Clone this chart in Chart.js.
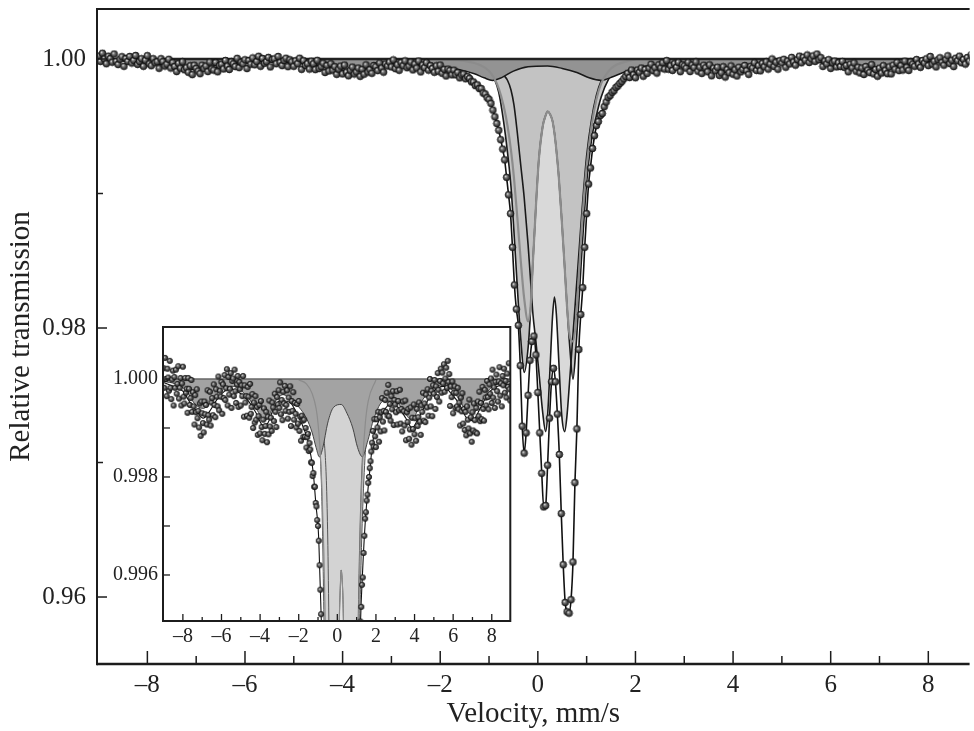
<!DOCTYPE html>
<html><head><meta charset="utf-8">
<script src="https://cdn.jsdelivr.net/npm/chart.js@4"></script>
<style>
html,body{margin:0;padding:0;background:#fff;}
#wrap{position:relative;width:974px;height:731px;overflow:hidden;}
#main{position:absolute;left:0;top:0;}
#inset{position:absolute;left:100px;top:320px;}
</style></head><body>
<div id="wrap"><canvas id="main" width="974" height="731"></canvas><canvas id="inset" width="414" height="340"></canvas></div>
<script>
// ---------- measured spectrum (channels from -9.00 mm/s, 0.04 mm/s apart) ----------
const V_START = -9.0, V_STEP = 0.04;
// transmission offsets from 1, in units of 1e-5
const transLeftOffset = [
 22,-18,43,0,-35,21,3,-24,37,-18,
 -41,-1,17,-54,4,-18,19,-30,-10,26,
 -40,-18,2,-54,-9,25,-36,-50,2,-28,
 -20,-69,2,-20,-53,-39,-2,-67,-27,-56,
 -93,-33,-68,-21,-80,-65,-99,-50,-116,-46,
 -70,-90,-109,-46,-72,-53,-93,-23,-74,-83,
 -26,-95,-48,-39,-74,-11,-53,-78,-21,-36,
 -56,5,-64,-24,-36,-6,-71,-11,-39,8,
 -43,-19,20,-54,4,-32,-20,12,-59,-4,
 1,-35,19,-25,-49,-11,6,-57,-6,-21,
 -54,-13,-35,6,-77,-13,-48,-35,-75,-16,
 -36,-79,-10,-71,-57,-31,-100,-48,-89,-35,
 -83,-57,-114,-76,-53,-111,-45,-98,-125,-83,
 -60,-112,-96,-67,-129,-77,-113,-44,-97,-79,
 -106,-48,-58,-86,-30,-67,-98,-37,-52,-23,
 -59,-7,-72,-43,-84,-26,-50,-14,-65,-53,
 -23,-81,-38,-67,-15,-96,-45,-65,-27,-83,
 -49,-71,-99,-51,-91,-45,-106,-77,-126,-75,
 -85,-118,-83,-118,-100,-140,-119,-112,-147,-131,
 -144,-170,-171,-198,-192,-220,-220,-253,-260,-288
];
const transCenterOffset = [
 -300,-330,-380,-430,-480,-530,-600,-670,-750,-880,
 -1010,-1150,-1400,-1680,-1860,-1980,-2280,-2730,-2930,-2780,
 -2500,-2240,-2100,-2060,-2200,-2480,-2780,-3080,-3330,-3320,
 -3020,-2670,-2400,-2300,-2400,-2640,-2940,-3380,-3760,-4040,
 -4110,-4120,-4020,-3740,-3150,-2750,-2160,-1900,-1700,-1400,-1150
];
const transRightOffset = [
 -930,-810,-665,-570,-495,-465,-420,-405,-355,-320,
 -285,-272,-248,-236,-212,-200,-182,-168,-148,-130,
 -106,-138,-82,-117,-139,-82,-99,-67,-128,-78,
 -107,-68,-39,-87,-65,-105,-43,-67,-28,-75,
 -12,-76,-51,-85,-35,-62,-25,-94,-43,-52,
 -68,-25,-93,-45,-64,-22,-91,-61,-107,-46,
 -66,-95,-44,-125,-68,-88,-61,-122,-103,-58,
 -134,-79,-102,-52,-113,-80,-126,-61,-96,-78,
 -48,-87,-114,-54,-67,-28,-85,-50,-88,-32,
 -58,-21,-75,-38,0,-56,-24,-76,-13,-30,
 -2,-61,-15,-37,12,-22,-46,-4,21,-28,
 13,-9,30,-26,1,23,-18,37,-6,10,
 -55,-15,-37,-5,-70,-28,-15,-59,-28,-56,
 -18,-62,-48,-95,-38,-66,-29,-91,-61,-104,
 -67,-115,-56,-83,-101,-42,-111,-78,-128,-68,
 -105,-50,-84,-109,-59,-111,-46,-76,-26,-86,
 -49,-82,-16,-61,-85,-22,-38,-54,-4,-37,
 -62,-11,-30,1,-49,19,-38,-17,-59,-6,
 9,-25,-46,-5,24,-34,-9,-56,6,-13,
 21,-28,-4,-38,11,-16,32,-21,-44,7
];

// ---------- fitted envelope ----------
const fitVelocity = [-9.0,-8.5,-8.0,-7.6,-7.3,-6.95,-6.6,-6.2,-5.6,-5.0,-4.6,-4.2,-3.85,-3.6,-3.3,-3.0,-2.7,-2.4,-2.1,-1.8,-1.5,-1.25,-1.1,
 -1.00,-0.96,-0.92,-0.88,-0.84,-0.80,-0.76,-0.72,-0.68,-0.64,-0.60,-0.56,-0.52,-0.48,-0.44,-0.40,-0.36,-0.32,-0.28,-0.24,-0.20,-0.16,-0.12,-0.08,-0.04,
 0.00,0.04,0.08,0.12,0.16,0.20,0.24,0.28,0.32,0.36,0.40,0.44,0.48,0.52,0.56,0.60,0.64,0.68,0.72,0.76,0.80,0.84,0.88,0.92,0.96,1.00,
 1.04,1.08,1.12,1.2,1.3,1.45,1.65,1.85,2.1,2.4,2.8,3.2,3.55,3.87,4.2,4.6,5.0,5.5,5.9,6.3,6.7,7.0,7.4,7.8,8.3,9.0];
const fitTransmission = [.99993,.99985,.99975,.99950,.99935,.99920,.99935,.99960,.99980,.99970,.99955,.99930,.99905,.99910,.99940,.99955,.99955,.99950,.99930,.99905,.99870,.99810,.99740,
 .99700,.99670,.99620,.99570,.99520,.99470,.99400,.99330,.99250,.99120,.98990,.98850,.98600,.98320,.98140,.98020,.97720,.97270,.97070,.97220,.97500,.97760,.97900,.97940,.97800,
 .97520,.97220,.96920,.96670,.96680,.96980,.97330,.97600,.97700,.97600,.97360,.97060,.96620,.96240,.95960,.95890,.95880,.95980,.96260,.96850,.97250,.97840,.98100,.98300,.98600,.98850,
 .99070,.99200,.99325,.99500,.99600,.99710,.99800,.99875,.99910,.99935,.99950,.99940,.99920,.99900,.99920,.99950,.99975,.99985,.99970,.99950,.99920,.99915,.99940,.99970,.99985,.99990];

// ---------- subspectra ----------
const compVelocity = [-2.0,-1.6,-1.3,-1.1,-1.0,-0.9,-0.8,-0.7,-0.62,-0.55,-0.49,-0.42,-0.35,-0.28,-0.2,-0.15,-0.1,-0.04,0.02,0.1,0.16,0.2,0.25,0.3,0.34,0.38,0.43,0.49,0.55,0.6,0.65,0.72,0.78,0.85,0.9,1.0,1.1,1.2,1.3,1.45,1.6,2.0];
// outer doublet (black)
const doubletOuter = [.99995,.99990,.99980,.99950,.99920,.99860,.99750,.99530,.99300,.99050,.98720,.98300,.97920,.97670,.97850,.98120,.98500,.98900,.99250,.99500,.99580,.99610,.99590,.99540,.99450,.99320,.99120,.98800,.98450,.98150,.97880,.97620,.97850,.98250,.98550,.99080,.99400,.99580,.99720,.99850,.99920,.99995];
// inner doublet (black)
const doubletInner = [.99998,.99995,.99990,.99980,.99960,.99940,.99910,.99880,.99840,.99770,.99660,.99450,.99210,.98970,.98620,.98360,.98100,.97900,.97680,.97370,.97230,.97350,.97700,.98080,.98230,.98100,.97750,.97350,.97230,.97360,.97600,.97950,.98250,.98600,.98850,.99280,.99550,.99730,.99840,.99920,.99960,.99998];
// third doublet (grey line)
const doubletGrey = [.99998,.99990,.99970,.99940,.99910,.99860,.99780,.99650,.99500,.99320,.99120,.98820,.98500,.98220,.98050,.98150,.98500,.98900,.99250,.99500,.99580,.99610,.99590,.99540,.99450,.99320,.99120,.98800,.98450,.98150,.97950,.97900,.98050,.98450,.98750,.99200,.99500,.99700,.99820,.99910,.99955,.99998];
// magnetic sextet + broad part (dark fill)
const sextetVelocity = [-9.0,-8.4,-7.8,-7.4,-6.95,-6.5,-6.0,-5.4,-4.8,-4.3,-3.71,-3.2,-2.8,-2.4,-2.0,-1.6,-1.3,-1.1,-0.93,-0.75,-0.5,-0.2,0.2,0.5,0.8,1.05,1.3,1.55,1.9,2.4,3.0,3.5,3.87,4.3,4.9,5.5,6.1,6.6,6.97,7.4,7.9,8.5,9.0];
const sextet = [.99995,.99990,.99975,.99950,.99940,.99955,.99980,.99985,.99970,.99945,.99916,.99955,.99968,.99958,.99943,.99920,.99890,.99860,.99841,.99860,.99910,.99942,.99948,.99930,.99900,.99860,.99841,.99870,.99920,.99955,.99955,.99930,.99916,.99950,.99980,.99988,.99970,.99940,.99928,.99950,.99980,.99992,.99995];

// ---------- axes ----------
const mainXTicks = [-8,-6,-4,-2,0,2,4,6,8], mainXMinor = [-7,-5,-3,-1,1,3,5,7];
const mainYTicks = [0.96,0.98,1.00], mainYMinor = [0.97,0.99];
const insetXTicks = [-8,-6,-4,-2,0,2,4,6,8], insetXMinor = [-9,-7,-5,-3,-1,1,3,5,7,9];
const insetYTicks = [0.996,0.998,1.000], insetYMinor = [0.997,0.999];

// ---------- build ----------
const allOffsets = transLeftOffset.concat(transCenterOffset, transRightOffset);
const spectrum = allOffsets.map((d,i)=>({x:+(V_START+i*V_STEP).toFixed(2), y:1+d*1e-5}));
const pts = (xs, ys) => xs.map((x,i)=>({x, y:ys[i]}));

function sphere(r){
  const s = Math.ceil(2*r+2), c = document.createElement('canvas'); c.width=c.height=s;
  const g = c.getContext('2d'), m = s/2;
  const gr = g.createRadialGradient(m-r*0.35, m-r*0.35, r*0.05, m, m, r);
  gr.addColorStop(0,'#ececec'); gr.addColorStop(0.35,'#7a7a7a'); gr.addColorStop(1,'#1a1a1a');
  g.fillStyle = gr; g.beginPath(); g.arc(m,m,r,0,Math.PI*2); g.fill();
  g.lineWidth = 0.7; g.strokeStyle = '#111'; g.stroke();
  return c;
}

const frame = {
  id:'frame',
  beforeDraw(chart, args, o){
    if(!o.whiteBg) return;
    const a = chart.chartArea, ctx = chart.ctx;
    ctx.save(); ctx.fillStyle='#fff'; ctx.fillRect(a.left,a.top,a.right-a.left,a.bottom-a.top); ctx.restore();
  },
  afterDraw(chart, args, o){
    const {ctx, chartArea:a, scales:{x,y}} = chart;
    ctx.save(); ctx.strokeStyle='#1c1c1c'; ctx.lineCap='butt';
    const ln=(x1,y1,x2,y2)=>{ctx.beginPath();ctx.moveTo(x1,y1);ctx.lineTo(x2,y2);ctx.stroke();};
    ctx.lineWidth = o.tickW;
    o.xMajor.forEach(v=>{const p=x.getPixelForValue(v); ln(p,a.bottom,p,a.bottom-o.xMajLen);});
    o.xMinor.forEach(v=>{const p=x.getPixelForValue(v); if(p>a.left+2&&p<a.right-2) ln(p,a.bottom,p,a.bottom-o.xMinLen);});
    o.yMajor.forEach(v=>{const p=y.getPixelForValue(v); ln(a.left,p,a.left+o.yMajLen,p);});
    o.yMinor.forEach(v=>{const p=y.getPixelForValue(v); ln(a.left,p,a.left+o.yMinLen,p);});
    ctx.lineWidth = o.leftW; ln(a.left,a.top-o.topW/2,a.left,a.bottom+o.bottomW/2);
    ctx.lineWidth = o.bottomW; ln(a.left,a.bottom,a.right,a.bottom);
    ctx.lineWidth = o.topW; ln(a.left,a.top,a.right,a.top);
    if(o.rightW){ ctx.lineWidth=o.rightW; ln(a.right,a.top-o.topW/2,a.right,a.bottom+o.bottomW/2); }
    ctx.restore();
  }
};

const fmtDash = v => v<0 ? '\u2013'+Math.abs(v) : String(v);

function makeChart(id, s){
  const datasets = [
    {data:pts(compVelocity,doubletInner), fill:{value:1}, backgroundColor:s.light, borderWidth:0, borderColor:'rgba(0,0,0,0)', order:20},
    {data:pts(compVelocity,doubletOuter), fill:{value:1}, backgroundColor:s.med, borderWidth:0, borderColor:'rgba(0,0,0,0)', order:19},
    {data:pts(compVelocity,doubletInner), fill:false, borderColor:s.dColor, borderWidth:s.dW, order:16},
    {data:pts(compVelocity,doubletOuter), fill:false, borderColor:s.dColor, borderWidth:s.dW, order:15},
    {data:pts(sextetVelocity,sextet), fill:{value:1}, backgroundColor:s.dark, borderColor:s.sColor, borderWidth:s.sW, order:14},
    {data:pts(compVelocity,doubletGrey), fill:false, borderColor:'#8c8c8c', borderWidth:s.cW, order:13},
    {data:[{x:-10,y:1},{x:10,y:1}], fill:false, borderColor:s.baseColor, borderWidth:s.baseW, order:12},
    {data:pts(fitVelocity,fitTransmission), fill:false, borderColor:'#111', borderWidth:s.fitW, order:11},
    {data:spectrum, showLine:false, pointStyle:sphere(s.pr), pointRadius:s.pr, order:10, clip:s.clip}
  ];
  return new Chart(document.getElementById(id), {
    type:'line',
    data:{datasets},
    plugins:[frame],
    options:{
      responsive:false, animation:false, events:[],
      layout:{padding:s.pad},
      elements:{line:{cubicInterpolationMode:'monotone', tension:0}, point:{radius:0, hoverRadius:0}},
      plugins:{legend:{display:false}, tooltip:{enabled:false}, frame:s.frame},
      scales:{
        x:{type:'linear', min:s.xmin, max:s.xmax,
           grid:{display:false, drawTicks:false}, border:{display:false},
           ticks:{autoSkip:false, maxRotation:0, includeBounds:false, padding:s.xPad, color:'#222',
                  font:{family:'Liberation Serif', size:s.tickSize, lineHeight:1}, callback:v=>fmtDash(v)},
           title:s.xTitle,
           afterBuildTicks:sc=>{sc.ticks=s.xTicks.map(v=>({value:v}));},
           afterFit:sc=>{sc.height=s.xH; sc.paddingLeft=0; sc.paddingRight=0;}},
        y:{type:'linear', min:s.ymin, max:s.ymax,
           grid:{display:false, drawTicks:false}, border:{display:false},
           ticks:{autoSkip:false, includeBounds:false, padding:s.yPad, color:'#222',
                  font:{family:'Liberation Serif', size:s.tickSize, lineHeight:1}, callback:v=>v.toFixed(s.yDec)},
           title:s.yTitle,
           afterBuildTicks:sc=>{sc.ticks=s.yTicks.map(v=>({value:v}));},
           afterFit:sc=>{sc.width=s.yW; sc.paddingTop=0; sc.paddingBottom=0;}}
      }
    }
  });
}

makeChart('main', {
  xmin:-9.032, xmax:8.846, ymin:0.95502, ymax:1.003717,
  pad:{top:9,left:0,right:0,bottom:0}, xH:67, yW:97, xPad:9, yPad:11, tickSize:25, yDec:2,
  xTicks:mainXTicks, yTicks:mainYTicks,
  xTitle:{display:true, text:'Velocity, mm/s', color:'#222', font:{family:'Liberation Serif', size:29, lineHeight:1}, padding:{top:0,bottom:2}},
  yTitle:{display:true, text:'Relative transmission', color:'#222', font:{family:'Liberation Serif', size:29, lineHeight:1}, padding:{top:7,bottom:0}},
  light:'#d9d9d9', med:'#c3c3c3', dark:'#939393',
  dColor:'#1a1a1a', dW:1.6, sW:1.5, sColor:'#1a1a1a', cW:2.2, baseW:2.5, baseColor:'#222', fitW:1.6, pr:3.4, clip:undefined,
  frame:{whiteBg:false, tickW:1.5, xMajor:mainXTicks, xMinor:mainXMinor, yMajor:mainYTicks, yMinor:mainYMinor,
         xMajLen:13, xMinLen:8, yMajLen:10, yMinLen:6, leftW:2, bottomW:2.5, topW:2, rightW:0}
});
makeChart('inset', {
  xmin:-9.03, xmax:8.96, ymin:0.995061, ymax:1.001061,
  pad:{top:7,left:0,right:2,bottom:0}, xH:39, yW:63, xPad:6, yPad:5, tickSize:20, yDec:3,
  xTicks:insetXTicks, yTicks:insetYTicks,
  xTitle:{display:false}, yTitle:{display:false},
  light:'#e3e3e3', med:'#d3d3d3', dark:'#a3a3a3',
  dColor:'#555', dW:1.0, sW:1.0, sColor:'#444', cW:1.2, baseW:1.5, baseColor:'#666', fitW:1.1, pr:2.7, clip:0,
  frame:{whiteBg:true, tickW:1.3, xMajor:insetXTicks, xMinor:insetXMinor, yMajor:insetYTicks, yMinor:insetYMinor,
         xMajLen:7, xMinLen:4, yMajLen:7, yMinLen:7, leftW:2, bottomW:2, topW:2, rightW:2}
});
</script>
</body></html>
